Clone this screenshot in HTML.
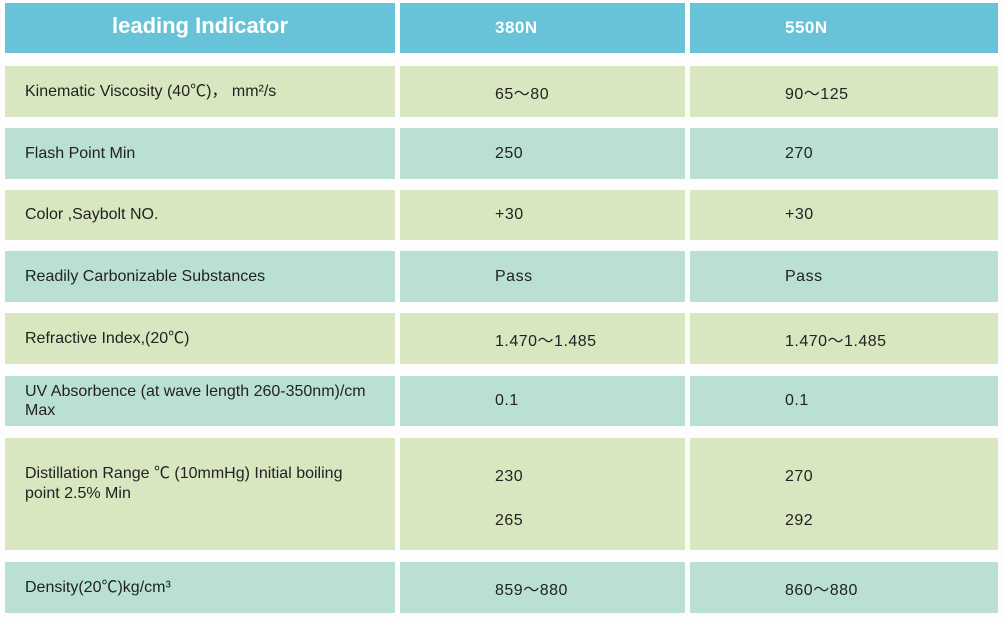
<!DOCTYPE html>
<html><head><meta charset="utf-8"><style>
body{margin:0;width:1004px;height:617px;background:#fdfdfd;position:relative;overflow:hidden;font-family:"Liberation Sans","Noto Sans CJK SC",sans-serif;}
.c{position:absolute;box-sizing:border-box;color:#222;font-size:16px;display:flex;align-items:center;}
.h{background:#68c3d8;color:#fff;font-weight:bold;}
.g{background:#d8e7c0;}
.t{background:#bae0d4;}
.l{padding-left:20px;line-height:20px;}
.v{padding-left:95px;letter-spacing:0.5px;}
</style></head><body>
<div class="c h" style="left:5px;top:3px;width:390px;height:50px;justify-content:center;font-size:22px;padding-bottom:4px">leading Indicator</div>
<div class="c h v" style="left:400px;top:3px;width:285px;height:50px;font-size:17px">380N</div>
<div class="c h v" style="left:690px;top:3px;width:308px;height:50px;font-size:17px">550N</div>
<div id="rows"></div>
<script>
const labels=["Kinematic Viscosity (40℃)， mm²/s","Flash Point Min","Color ,Saybolt NO.","Readily Carbonizable Substances","Refractive Index,(20℃)","UV Absorbence (at wave length 260-350nm)/cm Max","Distillation Range ℃ (10mmHg) Initial boiling point 2.5% Min","Density(20℃)kg/cm³"];
const v380=["65～80","250","+30","Pass","1.470～1.485","0.1","230<br><br>265","859～880"];
const v550=["90～125","270","+30","Pass","1.470～1.485","0.1","270<br><br>292","860～880"];
const tops=[66,128,190,251,313,376,438,562];
const hts=[51,51,50,51,51,50,112,51];
const root=document.getElementById('rows');
labels.forEach((lab,i)=>{
  const cls=i%2===0?'g':'t';
  const cols=[[5,390,lab,'l'],[400,285,v380[i],'v'],[690,308,v550[i],'v']];
  cols.forEach((c,j)=>{
    const d=document.createElement('div');
    d.className='c '+cls+' '+c[3];
    
    
    d.style.left=c[0]+'px';d.style.top=tops[i]+'px';d.style.width=c[1]+'px';d.style.height=hts[i]+'px';
    if(j===0&&i===6){d.style.alignItems='flex-start';d.style.paddingTop='26px';d.style.paddingRight='30px';}
    if(j>0&&i===6){d.style.paddingTop='10px';d.style.lineHeight='22px';}
    if(j===0&&i===5){d.style.paddingRight='4px';d.style.lineHeight='19px';}
    d.innerHTML=c[2];
    root.appendChild(d);
  });
});
</script>
</body></html>
